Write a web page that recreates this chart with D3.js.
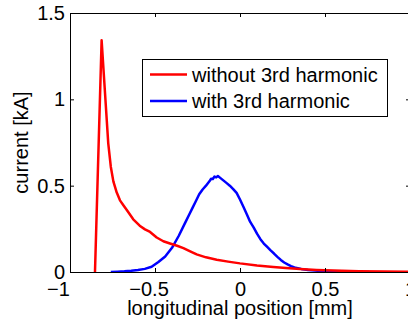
<!DOCTYPE html>
<html><head><meta charset="utf-8">
<script src="https://cdn.jsdelivr.net/npm/d3@7"></script>
<style>
html,body{margin:0;padding:0;background:#fff;overflow:hidden;}
svg{display:block;font-family:"Liberation Sans",Arial,sans-serif;}
</style></head>
<body>
<svg id="chart" width="408" height="325"></svg>
<script>
// Series: without 3rd harmonic (red)
const redX = [-0.853,-0.814,-0.775,-0.76,-0.745,-0.725,-0.706,-0.685,-0.667,-0.628,-0.59,-0.559,-0.529,-0.49,-0.451,-0.412,-0.37,-0.333,-0.29,-0.255,-0.2,-0.137,-0.07,0,0.1,0.196,0.27,0.353,0.45,0.549,0.7,0.85,1.0];
const redY = [0,1.342,0.745,0.61,0.525,0.46,0.415,0.385,0.36,0.305,0.268,0.247,0.232,0.2,0.178,0.165,0.152,0.138,0.118,0.102,0.085,0.071,0.06,0.05,0.038,0.029,0.023,0.018,0.012,0.008,0.005,0.003,0.002];
// Series: with 3rd harmonic (blue)
const blueX = [-0.76,-0.72,-0.68,-0.64,-0.6,-0.56,-0.52,-0.48,-0.44,-0.4,-0.36,-0.32,-0.3,-0.28,-0.26,-0.24,-0.22,-0.2,-0.18,-0.17,-0.16,-0.15,-0.14,-0.13,-0.12,-0.1,-0.08,-0.06,-0.04,-0.02,0,0.02,0.04,0.06,0.08,0.1,0.12,0.14,0.16,0.18,0.2,0.22,0.24,0.26,0.28,0.3,0.32,0.36,0.4,0.44,0.48,0.52,0.56,0.6,0.68,0.76];
const blueY = [0,0.002,0.004,0.007,0.011,0.018,0.03,0.058,0.09,0.14,0.21,0.29,0.33,0.37,0.41,0.45,0.478,0.5,0.525,0.54,0.538,0.553,0.548,0.556,0.548,0.532,0.516,0.5,0.48,0.458,0.42,0.378,0.335,0.29,0.258,0.222,0.19,0.165,0.145,0.125,0.107,0.088,0.07,0.055,0.044,0.034,0.026,0.018,0.012,0.008,0.006,0.004,0.003,0.002,0.001,0];
const xTicks = [-1,-0.5,0,0.5,1];
const yTicks = [0,0.5,1,1.5];
const legendLabels = ["without 3rd harmonic","with 3rd harmonic"];

const svg = d3.select("#chart");
const L = 70, R = 410, T = 13, B = 272;
const x = d3.scaleLinear().domain([-1,1]).range([L,R]);
const y = d3.scaleLinear().domain([0,1.5]).range([B,T]);
const fmt = v => (v<0 ? "\u2212" : "") + String(Math.abs(v));

svg.append("defs").append("clipPath").attr("id","clip")
  .append("rect").attr("x",L).attr("y",T).attr("width",R-L).attr("height",B-T);

// lines
const line = d3.line().x(d=>x(d[0])).y(d=>y(d[1]));
const redData = redX.map((v,i)=>[v,redY[i]]);
const blueData = blueX.map((v,i)=>[v,blueY[i]]);
const g = svg.append("g").attr("clip-path","url(#clip)");
g.append("path").datum(blueData).attr("d",line).attr("fill","none").attr("stroke","#0000ff").attr("stroke-width",2.5).attr("stroke-linejoin","round");
g.append("path").datum(redData).attr("d",line).attr("fill","none").attr("stroke","#ff0000").attr("stroke-width",2.5).attr("stroke-linejoin","round");

// axes
const xb = svg.append("g").attr("transform",`translate(0,${B})`)
  .call(d3.axisBottom(x).tickValues(xTicks).tickFormat(fmt).tickSizeInner(-4).tickSizeOuter(0).tickPadding(10));
const xt = svg.append("g").attr("transform",`translate(0,${T})`)
  .call(d3.axisTop(x).tickValues(xTicks).tickFormat("").tickSizeInner(-4).tickSizeOuter(0));
const yl = svg.append("g").attr("transform",`translate(${L},0)`)
  .call(d3.axisLeft(y).tickValues(yTicks).tickFormat(d=>String(d)).tickSizeInner(-4).tickSizeOuter(0).tickPadding(5));
const yr = svg.append("g").attr("transform",`translate(${R},0)`)
  .call(d3.axisRight(y).tickValues(yTicks).tickFormat("").tickSizeInner(-4).tickSizeOuter(0));
[xb,xt,yl,yr].forEach(a=>{
  a.attr("font-family",null).attr("font-size",null);
  a.selectAll("text").attr("font-size","20px").attr("fill","#000");
  a.selectAll("line").attr("stroke","#000");
  a.select(".domain").attr("stroke","#000");
});
xb.selectAll(".tick text").attr("dx", d => d===-1 ? -12 : (d<0 ? -6.5 : 0));

// legend
const lg = svg.append("g");
lg.append("rect").attr("x",142.5).attr("y",59.5).attr("width",245).attr("height",57).attr("fill","#fff").attr("stroke","#000").attr("stroke-width",1);
const lcol = ["#ff0000","#0000ff"], ly = [74.5,101], lb = [81.5,108];
legendLabels.forEach((t,i)=>{
  lg.append("line").attr("x1",150).attr("x2",187).attr("y1",ly[i]).attr("y2",ly[i]).attr("stroke",lcol[i]).attr("stroke-width",2.5);
  lg.append("text").attr("x",192).attr("y",lb[i]).attr("font-size","20px").attr("fill","#000").text(t);
});

// axis labels
svg.append("text").attr("x",240).attr("y",314.5).attr("text-anchor","middle").attr("font-size","20px").attr("fill","#000").text("longitudinal position [mm]");
svg.append("text").attr("transform","translate(28,142.5) rotate(-90)").attr("text-anchor","middle").attr("font-size","20px").attr("fill","#000").text("current [kA]");
</script>
</body></html>
